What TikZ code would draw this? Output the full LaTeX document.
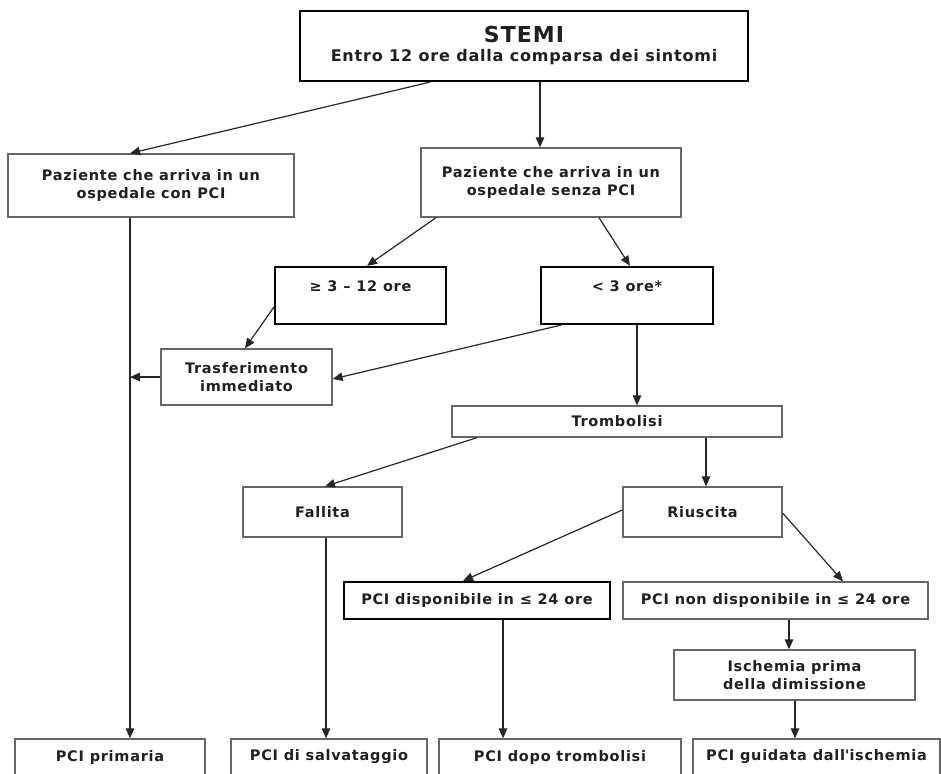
\documentclass[tikz,border=0pt]{standalone}
\usepackage{fontspec}
\setmainfont{DejaVu Sans}[LetterSpace=5]
\usepackage{tikz}
\usepackage{xcolor}
\usetikzlibrary{arrows.meta}

\definecolor{ink}{HTML}{231F20}

\begin{document}
\begin{tikzpicture}[x=1pt, y=-1pt, >={Triangle[length=10pt,width=8.5pt]},
    plainbox/.style={draw=black!60, line width=1.3pt, fill=white, text=ink, align=center,
      inner sep=0pt, font=\bfseries\fontsize{14.5}{18}\selectfont},
    boldbox/.style={plainbox, draw=black, line width=2.2pt},
    conn/.style={->, line width=1.2pt, black!85}]
    \useasboundingbox (0,0) rectangle (941,773);
    \clip (0,0) rectangle (941,773);

    % top
    \node[boldbox, minimum width=448, minimum height=70] (stemi) at (524,46)
      {{\fontsize{22}{22}\selectfont STEMI}\\[1pt] {\fontsize{16}{18}\selectfont Entro 12 ore dalla comparsa dei sintomi}};
    \node[plainbox, minimum width=286, minimum height=63] (conPCI) at (151,185.5)
      {Paziente che arriva in un\\ ospedale con PCI};
    \node[plainbox, minimum width=260, minimum height=69] (senzaPCI) at (551,182.5)
      {Paziente che arriva in un\\ ospedale senza PCI};

    % tempi
    \node[boldbox, minimum width=171, minimum height=57] (ge3) at (360.5,295.5) {≥ 3 – 12 ore\\ ~};
    \node[boldbox, minimum width=172, minimum height=57] (lt3) at (627,295.5) {< 3 ore*\\ ~};
    \node[plainbox, minimum width=171, minimum height=56] (trasf) at (246.5,377) {Trasferimento\\ immediato};
    \node[plainbox, minimum width=330, minimum height=31] (tromb) at (617,421.5) {Trombolisi};

    % esito trombolisi
    \node[plainbox, minimum width=159, minimum height=50] (fallita) at (322.5,512) {Fallita};
    \node[plainbox, minimum width=159, minimum height=50] (riuscita) at (702.5,512) {Riuscita};
    \node[boldbox, minimum width=266, minimum height=37] (pcidisp) at (477,600.5) {PCI disponibile in ≤ 24 ore};
    \node[plainbox, minimum width=305, minimum height=37] (pcinondisp) at (775.5,600.5) {PCI non disponibile in ≤ 24 ore};
    \node[plainbox, minimum width=241, minimum height=50] (ischemia) at (794.5,675) {Ischemia prima\\ della dimissione};

    % riga finale
    \node[plainbox, minimum width=190, minimum height=36] (primaria) at (110,757) {PCI primaria};
    \node[plainbox, minimum width=196, minimum height=36] (salvataggio) at (329,757) {PCI di salvataggio};
    \node[plainbox, minimum width=242, minimum height=36] (dopo) at (560,757) {PCI dopo trombolisi};
    \node[plainbox, minimum width=247, minimum height=36] (guidata) at (816.5,757) {PCI guidata dall\textquotesingle ischemia};

    \coordinate (snodo) at (130,377);

    % frecce
    \draw[conn] ([xshift=-94pt]stemi.south) -- ([xshift=-21pt]conPCI.north);
    \draw[conn] ([xshift=16pt]stemi.south) -- ([xshift=-11pt]senzaPCI.north);
    \draw[conn] ([xshift=-115pt]senzaPCI.south) -- ([xshift=6.5pt]ge3.north);
    \draw[conn] ([xshift=48pt]senzaPCI.south) -- ([xshift=3pt]lt3.north);
    \draw[conn] ([yshift=-11.5pt]ge3.west) -- ([xshift=-1.5pt]trasf.north);
    \draw[conn] ([xshift=-66pt]lt3.south) -- ([yshift=-2pt]trasf.east);
    \draw[conn] ([xshift=10pt]lt3.south) -- ([xshift=20pt]tromb.north);
    \draw[conn] (trasf.west) -- (snodo);
    \draw[conn] ([xshift=-21pt]conPCI.south) -- ([xshift=20pt]primaria.north);
    \draw[conn] ([xshift=-140pt]tromb.south) -- ([xshift=2.5pt]fallita.north);
    \draw[conn] ([xshift=89pt]tromb.south) -- ([xshift=3.5pt]riuscita.north);
    \draw[conn] ([xshift=3.5pt]fallita.south) -- ([xshift=-3pt]salvataggio.north);
    \draw[conn] ([yshift=2pt]riuscita.west) -- ([xshift=-14pt]pcidisp.north);
    \draw[conn] ([yshift=-1pt]riuscita.east) -- ([xshift=67.5pt]pcinondisp.north);
    \draw[conn] ([xshift=26pt]pcidisp.south) -- ([xshift=-57pt]dopo.north);
    \draw[conn] ([xshift=13.5pt]pcinondisp.south) -- ([xshift=-5.5pt]ischemia.north);
    \draw[conn] ([xshift=0.5pt]ischemia.south) -- ([xshift=-21.5pt]guidata.north);
  \end{tikzpicture}
\end{document}
